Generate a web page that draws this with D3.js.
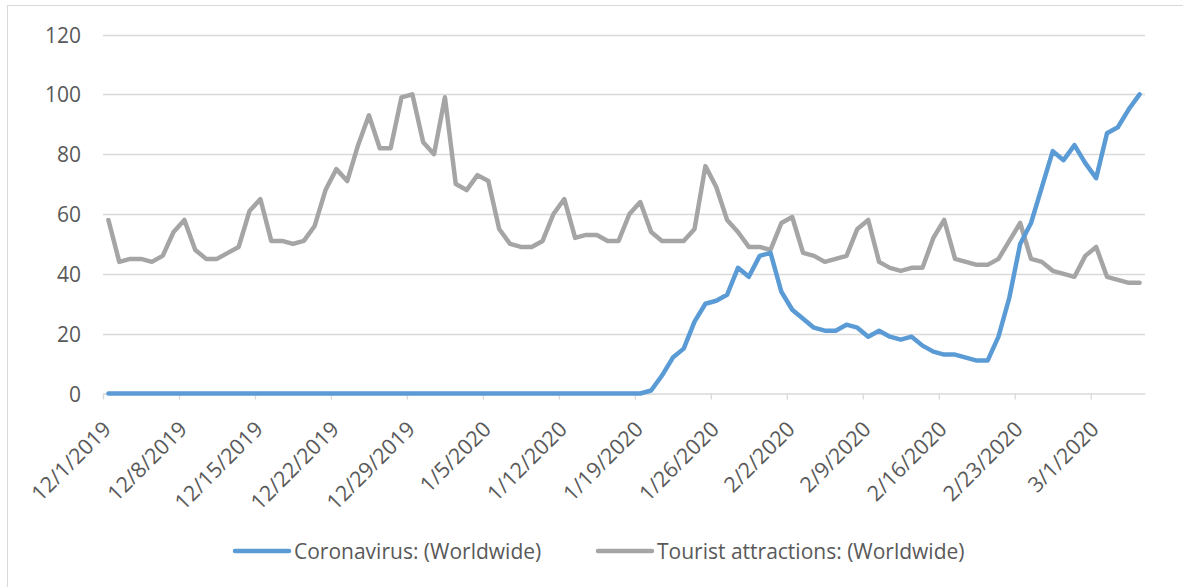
<!DOCTYPE html>
<html>
<head>
<meta charset="utf-8">
<script src="https://cdn.jsdelivr.net/npm/d3@7/dist/d3.min.js"></script>
<style>
  html, body { margin: 0; padding: 0; background: #fff; }
  svg { display: block; }
  svg text { font-family: "Open Sans", "Noto Sans", sans-serif; }
</style>
</head>
<body>
<svg id="chart" width="1183" height="587"></svg>
<script>
// ---- data ----
const startDate = "2019-12-01";
const endDate = "2020-03-06"; // exclusive
const seriesNames = ["Coronavirus: (Worldwide)", "Tourist attractions: (Worldwide)"];
const coronavirus = [
  0,0,0,0,0,0,0,0,0,0, 0,0,0,0,0,0,0,0,0,0,
  0,0,0,0,0,0,0,0,0,0, 0,0,0,0,0,0,0,0,0,0,
  0,0,0,0,0,0,0,0,0,0, 1,6,12,15,24,30,31,33,42,39,
  46,47,34,28,25,22,21,21,23,22, 19,21,19,18,19,16,14,13,13,12,
  11,11,19,32,50,57,69,81,78,83, 77,72,87,89,95,100
];
const tourist = [
  58,44,45,45,44,46,54,58,48,45, 45,47,49,61,65,51,51,50,51,56,
  68,75,71,83,93,82,82,99,100,84, 80,99,70,68,73,71,55,50,49,49,
  51,60,65,52,53,53,51,51,60,64, 54,51,51,51,55,76,69,58,54,49,
  49,48,57,59,47,46,44,45,46,55, 58,44,42,41,42,42,52,58,45,44,
  43,43,45,51,57,45,44,41,40,39, 46,49,39,38,37,37
];
const yTicks = [0, 20, 40, 60, 80, 100, 120];
const colors = ["#5b9bd5", "#a5a5a5"];

// ---- layout ----
const svg = d3.select("#chart");
const parse = d3.timeParse("%Y-%m-%d");
const days = d3.timeDay.range(parse(startDate), parse(endDate));
const plot = { left: 103, right: 1145, top: 34.5, bottom: 393.5 };
const FONT = '"Open Sans", "Noto Sans", sans-serif';

const x = d3.scaleTime()
  .domain([parse(startDate), parse(endDate)])
  .range([plot.left, plot.right]);
const y = d3.scaleLinear().domain([0, 120]).range([plot.bottom, plot.top]);
const mid = d => d3.timeHour.offset(d, 12);

// outer border
svg.append("rect").attr("x", 7.5).attr("y", 5.5).attr("width", 1190).attr("height", 600)
  .attr("fill", "none").attr("stroke", "#d9d9d9").attr("stroke-width", 1);

// gridlines
svg.append("g").selectAll("line").data(yTicks.filter(v => v > 0)).join("line")
  .attr("x1", plot.left).attr("x2", plot.right)
  .attr("y1", d => Math.round(y(d)) + 0.5).attr("y2", d => Math.round(y(d)) + 0.5)
  .attr("stroke", "#d9d9d9").attr("stroke-width", 1.3);

// y labels
const yAxis = d3.axisLeft(y).tickValues(yTicks).tickSize(0).tickPadding(0);
const gy = svg.append("g").attr("transform", `translate(81,0)`).call(yAxis)
  .attr("font-family", FONT).attr("font-size", 21);
gy.select(".domain").remove();
gy.selectAll("text").attr("fill", "#595959").attr("dy", "0.36em");

// x axis
const weekTicks = days.filter((d, i) => i % 7 === 0);
const fmt = d => `${d.getMonth() + 1}/${d.getDate()}/${d.getFullYear()}`;
const xAxis = d3.axisBottom(x).tickValues(weekTicks).tickSize(6).tickFormat(fmt).tickSizeOuter(0);
const gx = svg.append("g").attr("transform", `translate(0,${plot.bottom})`).call(xAxis)
  .attr("font-family", FONT).attr("font-size", 21.5);
gx.select(".domain").attr("stroke", "#d9d9d9").attr("stroke-width", 1.5);
gx.selectAll(".tick line").attr("stroke", "#d9d9d9").attr("stroke-width", 1.3);
gx.selectAll(".tick text")
  .attr("fill", "#595959")
  .attr("text-anchor", "end")
  .attr("y", 0).attr("dy", 0)
  .attr("transform", `translate(9,37) rotate(-45)`);

// lines
const line = d3.line().x((d, i) => x(mid(days[i]))).y(d => y(d));
[tourist, coronavirus].forEach((s, k) => {
  svg.append("path").datum(s)
    .attr("fill", "none")
    .attr("stroke", k === 0 ? colors[1] : colors[0])
    .attr("stroke-width", 4.5)
    .attr("stroke-linejoin", "round")
    .attr("stroke-linecap", "round")
    .attr("d", line);
});

// legend
const legendItems = [
  { name: seriesNames[0], color: colors[0], x0: 235 },
  { name: seriesNames[1], color: colors[1], x0: 598 }
];
const lg = svg.append("g");
legendItems.forEach(it => {
  lg.append("line").attr("x1", it.x0).attr("x2", it.x0 + 54)
    .attr("y1", 551).attr("y2", 551)
    .attr("stroke", it.color).attr("stroke-width", 4.5).attr("stroke-linecap", "round");
  lg.append("text").attr("x", it.x0 + 59).attr("y", 551).attr("dy", "0.36em")
    .attr("fill", "#595959").style("font-size", "21px").text(it.name);
});
</script>
</body>
</html>
